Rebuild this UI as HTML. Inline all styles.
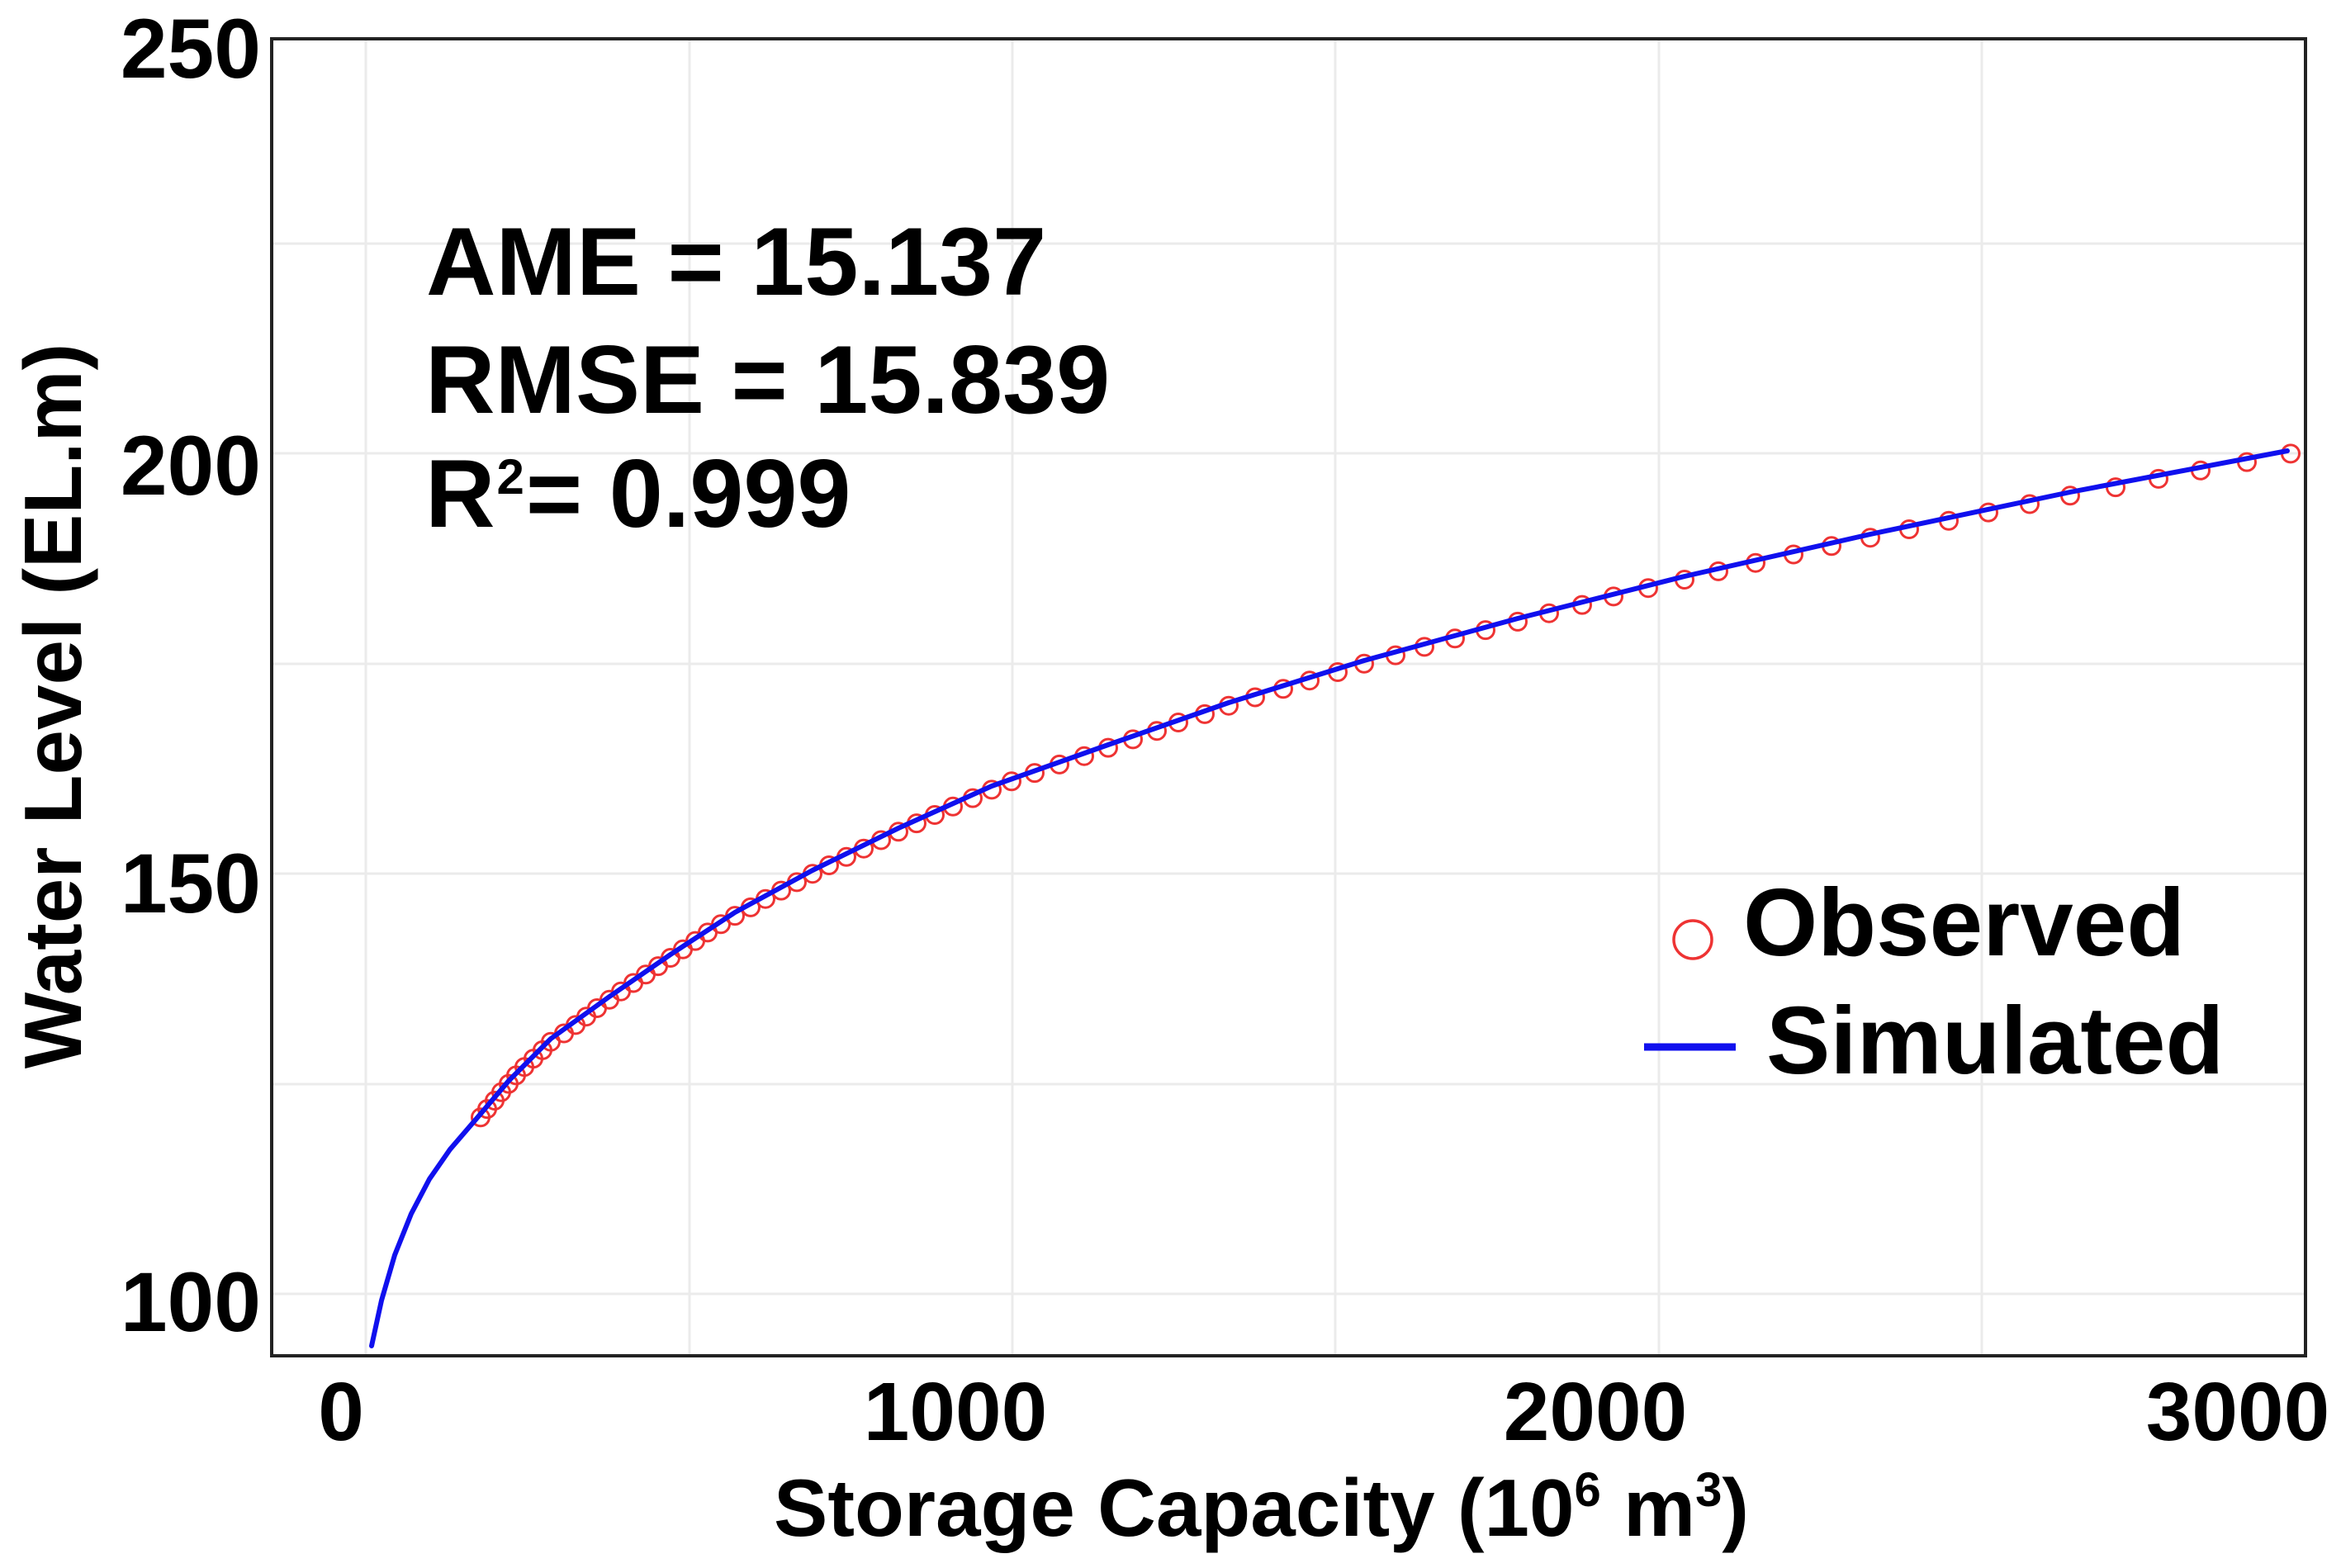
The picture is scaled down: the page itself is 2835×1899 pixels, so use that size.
<!DOCTYPE html>
<html>
<head>
<meta charset="utf-8">
<style>
html,body{margin:0;padding:0;background:#fff;}
svg{display:block;}
text{font-family:"Liberation Sans",Arial,sans-serif;fill:#000;}
</style>
</head>
<body>
<svg width="2835" height="1899" viewBox="0 0 2835 1899" xmlns="http://www.w3.org/2000/svg">
<rect x="0" y="0" width="2835" height="1899" fill="#fff"/>
<g stroke="#ebebeb" stroke-width="3">
<line x1="443" y1="49" x2="443" y2="1640"/>
<line x1="835" y1="49" x2="835" y2="1640"/>
<line x1="1226" y1="49" x2="1226" y2="1640"/>
<line x1="1617" y1="49" x2="1617" y2="1640"/>
<line x1="2009" y1="49" x2="2009" y2="1640"/>
<line x1="2400" y1="49" x2="2400" y2="1640"/>
<line x1="331" y1="295" x2="2790" y2="295"/>
<line x1="331" y1="549" x2="2790" y2="549"/>
<line x1="331" y1="804" x2="2790" y2="804"/>
<line x1="331" y1="1058" x2="2790" y2="1058"/>
<line x1="331" y1="1313" x2="2790" y2="1313"/>
<line x1="331" y1="1567" x2="2790" y2="1567"/>
</g>
<g fill="none" stroke="#ee3333" stroke-width="3">
<circle cx="582" cy="1353.3" r="10.5"/>
<circle cx="590" cy="1343.1" r="10.5"/>
<circle cx="599" cy="1333.0" r="10.5"/>
<circle cx="607" cy="1322.8" r="10.5"/>
<circle cx="616" cy="1312.6" r="10.5"/>
<circle cx="625" cy="1302.4" r="10.5"/>
<circle cx="635" cy="1292.2" r="10.5"/>
<circle cx="646" cy="1282.1" r="10.5"/>
<circle cx="657" cy="1271.9" r="10.5"/>
<circle cx="667" cy="1261.7" r="10.5"/>
<circle cx="683" cy="1251.5" r="10.5"/>
<circle cx="697" cy="1241.4" r="10.5"/>
<circle cx="710" cy="1231.2" r="10.5"/>
<circle cx="723" cy="1221.0" r="10.5"/>
<circle cx="738" cy="1210.8" r="10.5"/>
<circle cx="752" cy="1200.7" r="10.5"/>
<circle cx="767" cy="1190.5" r="10.5"/>
<circle cx="782" cy="1180.3" r="10.5"/>
<circle cx="797" cy="1170.1" r="10.5"/>
<circle cx="812" cy="1160.0" r="10.5"/>
<circle cx="827" cy="1149.8" r="10.5"/>
<circle cx="842" cy="1139.6" r="10.5"/>
<circle cx="857" cy="1129.4" r="10.5"/>
<circle cx="873" cy="1119.3" r="10.5"/>
<circle cx="890" cy="1109.1" r="10.5"/>
<circle cx="909" cy="1098.9" r="10.5"/>
<circle cx="927" cy="1088.7" r="10.5"/>
<circle cx="946" cy="1078.6" r="10.5"/>
<circle cx="965" cy="1068.4" r="10.5"/>
<circle cx="984" cy="1058.2" r="10.5"/>
<circle cx="1004" cy="1048.0" r="10.5"/>
<circle cx="1025" cy="1037.8" r="10.5"/>
<circle cx="1046" cy="1027.7" r="10.5"/>
<circle cx="1067" cy="1017.5" r="10.5"/>
<circle cx="1088" cy="1007.3" r="10.5"/>
<circle cx="1110" cy="997.1" r="10.5"/>
<circle cx="1132" cy="987.0" r="10.5"/>
<circle cx="1154" cy="976.8" r="10.5"/>
<circle cx="1178" cy="966.6" r="10.5"/>
<circle cx="1201" cy="956.4" r="10.5"/>
<circle cx="1225" cy="946.3" r="10.5"/>
<circle cx="1253" cy="936.1" r="10.5"/>
<circle cx="1283" cy="925.9" r="10.5"/>
<circle cx="1313" cy="915.7" r="10.5"/>
<circle cx="1342" cy="905.6" r="10.5"/>
<circle cx="1372" cy="895.4" r="10.5"/>
<circle cx="1401" cy="885.2" r="10.5"/>
<circle cx="1427" cy="875.0" r="10.5"/>
<circle cx="1459" cy="864.9" r="10.5"/>
<circle cx="1488" cy="854.7" r="10.5"/>
<circle cx="1520" cy="844.5" r="10.5"/>
<circle cx="1554" cy="834.3" r="10.5"/>
<circle cx="1586" cy="824.2" r="10.5"/>
<circle cx="1620" cy="814.0" r="10.5"/>
<circle cx="1652" cy="803.8" r="10.5"/>
<circle cx="1690" cy="793.6" r="10.5"/>
<circle cx="1725" cy="783.4" r="10.5"/>
<circle cx="1762" cy="773.3" r="10.5"/>
<circle cx="1799" cy="763.1" r="10.5"/>
<circle cx="1838" cy="752.9" r="10.5"/>
<circle cx="1876" cy="742.7" r="10.5"/>
<circle cx="1916" cy="732.6" r="10.5"/>
<circle cx="1954" cy="722.4" r="10.5"/>
<circle cx="1996" cy="712.2" r="10.5"/>
<circle cx="2040" cy="702.0" r="10.5"/>
<circle cx="2081" cy="691.9" r="10.5"/>
<circle cx="2126" cy="681.7" r="10.5"/>
<circle cx="2172" cy="671.5" r="10.5"/>
<circle cx="2218" cy="661.3" r="10.5"/>
<circle cx="2265" cy="651.2" r="10.5"/>
<circle cx="2312" cy="641.0" r="10.5"/>
<circle cx="2360" cy="630.8" r="10.5"/>
<circle cx="2408" cy="620.6" r="10.5"/>
<circle cx="2458" cy="610.5" r="10.5"/>
<circle cx="2507" cy="600.3" r="10.5"/>
<circle cx="2562" cy="590.1" r="10.5"/>
<circle cx="2614" cy="579.9" r="10.5"/>
<circle cx="2665" cy="569.8" r="10.5"/>
<circle cx="2721" cy="559.6" r="10.5"/>
<circle cx="2774" cy="549.4" r="10.5"/>
</g>
<polyline fill="none" stroke="#1010ee" stroke-width="6" stroke-linejoin="round" stroke-linecap="round" points="450,1630 462,1575 478,1520 498,1470 520,1428 545,1392 582,1349 616,1309 667,1258 738,1207 812,1156 890,1105 984,1054 1088,1003 1201,952 1342,902 1488,851 1652,800 1838,749 2040,698 2265,647 2507,596 2770,546"/>
<rect x="329" y="47" width="2463" height="1595" fill="none" stroke="#222" stroke-width="4"/>
<g font-size="102" font-weight="bold" text-anchor="end">
<text x="316" y="94">250</text>
<text x="316" y="599">200</text>
<text x="316" y="1105">150</text>
<text x="316" y="1612">100</text>
</g>
<g font-size="100" font-weight="bold" text-anchor="middle">
<text x="413" y="1744">0</text>
<text x="1157" y="1744">1000</text>
<text x="1932" y="1744">2000</text>
<text x="2710" y="1744">3000</text>
</g>
<text x="937" y="1860" font-size="98" font-weight="bold">Storage Capacity (10<tspan font-size="58" dy="-36">6</tspan><tspan font-size="98" dy="36"> m</tspan><tspan font-size="58" dy="-36">3</tspan><tspan font-size="98" dy="36">)</tspan></text>
<text transform="translate(98,855) rotate(-90)" x="0" y="0" font-size="98" font-weight="bold" text-anchor="middle">Water Level (EL.m)</text>
<g font-size="117" font-weight="bold">
<text x="516" y="357">AME = 15.137</text>
<text x="515" y="500">RMSE = 15.839</text>
<text x="515" y="638">R<tspan font-size="60" dx="2" dy="-40">2</tspan><tspan font-size="117" dx="2" dy="40">= 0.999</tspan></text>
</g>
<circle cx="2050" cy="1138" r="23" fill="none" stroke="#ee3333" stroke-width="3.5"/>
<text x="2111" y="1157" font-size="116" font-weight="bold">Observed</text>
<line x1="1991" y1="1268" x2="2102" y2="1268" stroke="#1010ee" stroke-width="9"/>
<text x="2139" y="1300" font-size="116" font-weight="bold">Simulated</text>
</svg>
</body>
</html>
